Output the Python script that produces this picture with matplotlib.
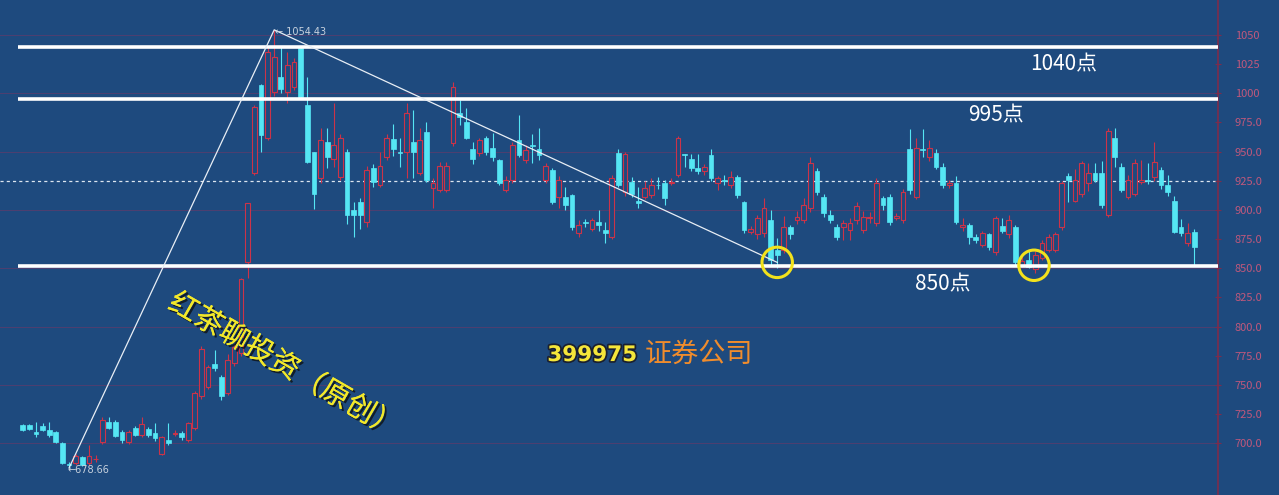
import matplotlib
matplotlib.use("Agg")
import matplotlib.pyplot as plt
import matplotlib.patheffects as pe
import numpy as np

plt.rcParams["font.family"] = ["Noto Sans CJK SC", "DejaVu Sans"]

# daily OHLC (rows of 10 candles)
opens = [
    715.5, 715.5, 709.5, 714.7, 711, 709.5, 700, 682.5, 683, 688,
    683, 686, 701, 718, 718, 709.5, 701, 713, 707, 712,
    709, 691, 703, 708, 709, 703, 713, 740, 748, 768,
    757, 743, 769, 777, 855, 932, 1007, 962, 1001, 1014,
    1001, 1005, 1039, 990, 950, 927, 958, 944, 928, 950,
    900, 907, 890, 936, 921, 945, 961, 950, 950, 958,
    932, 967, 919, 917, 917, 957, 983, 975, 952, 949,
    962, 953, 943, 917, 926, 960, 943, 956, 952, 926,
    934, 911, 911, 913, 880, 890, 884, 890, 883, 877,
    949, 915, 924, 908, 911, 913, 921.5, 923, 923, 930,
    947.5, 944, 936, 933, 947, 923, 926, 921, 928, 907,
    881, 879, 880, 891, 866, 866, 885, 891, 891, 902,
    933, 911, 896, 885, 885, 883, 891, 883, 893, 889,
    910, 911, 893, 891, 952, 911, 952, 945, 949, 937,
    921, 923, 885, 887, 877, 870, 879, 864, 886, 879,
    885, 853, 857, 849, 859, 866, 866, 885, 929, 908,
    914, 923, 932, 932, 896, 962, 937, 911, 914, 924,
    926, 928, 934, 921, 908, 885, 872, 881,
]
highs = [
    716, 716, 718.5, 717, 718, 710, 701, 684, 691, 689,
    698, 690, 722, 722, 720, 711, 711, 715, 722, 714,
    717, 706, 717, 711, 710, 718, 745, 783, 767, 780,
    758, 776, 785, 842, 906, 990, 1008, 1040, 1054.43, 1040,
    1035, 1030, 1040, 1014, 950, 970, 970, 992, 965, 952,
    907, 910, 938, 939, 950, 965, 974, 962, 992, 986,
    970, 975, 927, 941, 941, 1010, 994, 987, 958, 962,
    963, 966, 944, 929, 958, 981, 956, 965, 970, 940,
    936, 929, 920, 914, 891, 892, 893, 900, 890, 930,
    952, 950, 928, 920, 925, 927, 928, 926, 927, 963,
    948, 948, 948, 939, 952, 929, 930, 933, 930, 908,
    886, 896, 910, 900, 876, 895, 887, 899, 910, 945,
    936, 914, 900, 888, 891, 893, 907, 899, 898, 927,
    912, 914, 897, 918, 969, 962, 969, 960, 952, 940,
    926, 929, 893, 889, 879, 882, 880, 895, 893, 896,
    887, 860, 866, 865, 874, 879, 881, 925, 932, 935,
    942, 940, 940, 942, 970, 970, 940, 930, 944, 943,
    940, 958, 937, 930, 912, 892, 889, 884,
]
lows = [
    710, 711, 705, 710, 705, 700, 682, 678.66, 681, 680,
    681, 684, 699, 712, 705, 700, 699, 706, 705, 705,
    702, 690, 698, 706, 703, 701, 711, 738, 746, 762,
    737, 741, 766, 775, 842, 930, 950, 960, 998, 1000,
    992, 1003, 995, 940, 901, 923, 936, 937, 926, 888,
    877, 884, 885, 920, 920, 943, 946, 937, 927, 927,
    930, 924, 902, 915, 915, 955, 973, 961, 939, 946,
    947, 942, 921, 915, 923, 945, 940, 940, 943, 923,
    905, 902, 900, 883, 877, 885, 882, 882, 872, 875,
    920, 912, 911, 902, 909, 910, 918, 904, 921, 928,
    937, 933, 931, 930, 925, 917, 921, 919, 910, 880,
    879, 875, 877, 853, 850, 863, 875, 888, 889, 898,
    913, 894, 889, 874, 874, 874, 888, 880, 889, 886,
    900, 887, 891, 889, 914, 909, 945, 942, 935, 919,
    919, 888, 882, 871, 872, 868, 866, 861, 880, 876,
    852, 851, 850, 846, 857, 864, 864, 883, 907, 907,
    911, 916, 924, 902, 894, 937, 915, 909, 912, 922,
    922, 925, 918, 912, 880, 878, 869, 853,
]
closes = [
    711.2, 712, 708, 711.2, 707, 701, 683, 681, 689, 681,
    689, 686.6, 720, 713, 706, 702.7, 709.5, 707, 716, 707,
    704, 705, 700, 709, 705, 717, 743, 781, 765, 764,
    740, 771, 782, 841, 906, 988, 964, 1035, 1031, 1004,
    1024, 1027, 997, 941, 914, 960, 945, 956, 962, 896,
    896, 896, 934, 924, 938, 962, 952, 949, 983, 950,
    960, 926, 923, 938, 938, 1005, 980, 962, 944, 960,
    950, 945, 923, 926, 956, 947, 951, 955, 947, 938,
    907, 926, 904, 885, 887, 889, 891, 887, 880, 927,
    921, 948, 914, 906, 919, 921, 921, 910, 924, 962,
    947, 936, 933, 937, 927, 927, 925, 928, 913, 883,
    884, 893, 902, 857, 861, 885, 879, 894, 904, 940,
    915, 897, 891, 877, 889, 889, 903, 894, 894, 923,
    904, 890, 895, 915, 917, 953, 951, 953, 937, 921,
    923, 890, 887, 877, 874, 880, 868, 893, 882, 891,
    855, 856, 851, 861, 872, 877, 879, 923, 926, 926,
    940, 932, 926, 904, 968, 945, 917, 926, 940, 926,
    925, 941, 921, 915, 881, 880, 880, 868,
]

levels = [1040, 995, 852]
level_labels = ["1040点", "995点", "850点"]
mid_line = 925
trend_idx = [7, 38, 114]
trend_val = [678.66, 1054.43, 855]
circle_idx = [114, 152.8]
circle_val = [855, 852.5]
ytick_vals = [1050, 1025, 1000, 975, 950, 925, 900, 875, 850, 825, 800, 775, 750, 725, 700]
ytick_labels = ["1050", "1025", "1000", "975.0", "950.0", "925.0", "900.0", "875.0",
                "850.0", "825.0", "800.0", "775.0", "750.0", "725.0", "700.0"]
grid_vals = [1050, 1000, 950, 900, 850, 800, 750, 700]

BG = "#1e4a7e"
UP = "#cc3348"
DOWN = "#55e6f4"

fig = plt.figure(figsize=(12.79, 4.95), dpi=100, facecolor=BG)
ax = fig.add_axes([0, 0, 1218 / 1279, 1], facecolor=BG)

n = len(opens)
x = np.arange(n)
o = np.array(opens)
h = np.array(highs)
l = np.array(lows)
c = np.array(closes)
up = c >= o

ax.hlines(grid_vals, -4, n + 4, colors="#4e3f70", linewidth=0.7, zorder=1)

# wicks
ax.vlines(x[up], l[up], h[up], colors=UP, linewidth=0.8, zorder=2)
ax.vlines(x[~up], l[~up], h[~up], colors=DOWN, linewidth=0.8, zorder=2)

# bodies: red hollow, cyan filled
body_h = np.maximum(np.abs(c - o), 0.6)
ax.bar(x[up], body_h[up], bottom=o[up], width=0.72, facecolor=BG,
       edgecolor=UP, linewidth=0.8, zorder=3)
ax.bar(x[~up], body_h[~up], bottom=c[~up], width=0.72, facecolor=DOWN,
       edgecolor=DOWN, linewidth=0.5, zorder=3)

# support / resistance lines
ax.hlines(levels, -0.7, n + 5, colors="white", linewidth=2.6, zorder=4)
ax.axhline(mid_line, color="#dde6f0", linewidth=0.9, linestyle=(0, (2.5, 2.5)), zorder=1.5)

# trend lines
ax.plot(trend_idx, trend_val, color="#e8eef5", linewidth=0.9, zorder=5)

ax.scatter(circle_idx, circle_val, s=480, facecolors="none", edgecolors="#f2e21c",
           linewidths=2.2, zorder=6)

ax.text(trend_idx[1] + 0.1, trend_val[1] - 2, "\u2190 1054.43", color="#c8d2de",
        fontsize=7, ha="left", va="center", family=["DejaVu Sans"], zorder=6)
ax.text(trend_idx[0] - 0.2, trend_val[0] - 2, "\u2190678.66", color="#c8d2de",
        fontsize=7, ha="left", va="center", family=["DejaVu Sans"], zorder=6)

label_pos = [(152.2, 1025), (142.8, 981), (134.8, 836.5)]
for (lx, ly), txt in zip(label_pos, level_labels):
    ax.text(lx, ly, txt, color="white", fontsize=15, ha="left", va="center", zorder=6)

shadow = [pe.withStroke(linewidth=2.5, foreground="#1a2030")]
ax.text(92.8, 775.5, "399975", color="#f4e63a", fontsize=15.5, fontweight="bold",
        ha="right", va="center", family=["DejaVu Sans"], path_effects=shadow, zorder=6)
ax.text(94.0, 775.5, "证券公司", color="#f08c2c", fontsize=19.5, ha="left", va="center",
        zorder=6)

ax.text(39.5, 766, "红茶聊投资（原创）", color="#f2e82a", fontsize=21,
        rotation=-30, ha="center", va="center",
        path_effects=[pe.withSimplePatchShadow(offset=(1.5, -1.5), shadow_rgbFace="#101820",
                                               alpha=0.9), pe.Normal()],
        zorder=6)

ax.set_xlim(-3.43, 180.6)
ax.set_ylim(655.5, 1080)

for side in ["left", "top", "bottom"]:
    ax.spines[side].set_visible(False)
ax.spines["right"].set_color("#7c2c4c")
ax.spines["right"].set_linewidth(1.2)
ax.set_xticks([])
ax.yaxis.tick_right()
ax.set_yticks(ytick_vals)
ax.set_yticklabels(ytick_labels)
ax.tick_params(axis="y", colors="#7c2c4c", labelcolor="#c0587c", labelsize=8,
               length=4, direction="inout", pad=10)

fig.savefig("out.png", dpi=100, facecolor=BG)
